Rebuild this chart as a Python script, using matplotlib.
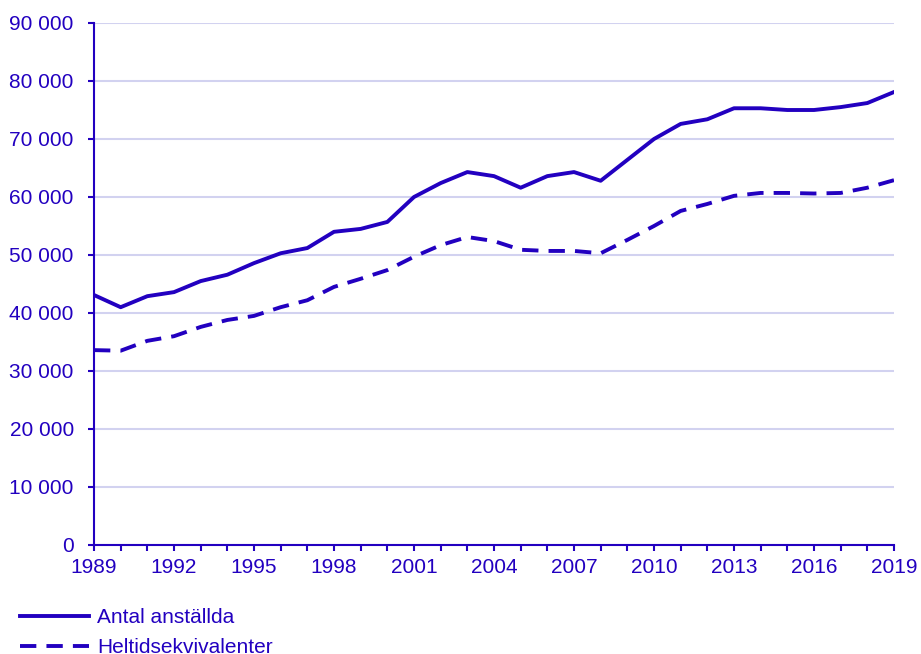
import numpy as np
import matplotlib.pyplot as plt
import matplotlib as mpl

mpl.rcParams['font.family'] = ['Liberation Sans', 'DejaVu Sans']
mpl.rcParams['font.size'] = 15

years = list(range(1989, 2020))
antal = [43.1, 41.0, 42.9, 43.6, 45.5, 46.6, 48.6, 50.3, 51.2, 54.0, 54.5,
         55.7, 60.0, 62.4, 64.3, 63.6, 61.6, 63.6, 64.3, 62.8, 66.4, 70.0,
         72.6, 73.4, 75.3, 75.3, 75.0, 75.0, 75.5, 76.2, 78.1]
heltid = [33.6, 33.5, 35.2, 36.0, 37.6, 38.8, 39.5, 41.0, 42.2, 44.5, 45.9,
          47.4, 49.7, 51.7, 53.1, 52.4, 50.9, 50.7, 50.7, 50.3, 52.6, 55.0,
          57.6, 58.8, 60.2, 60.7, 60.7, 60.6, 60.7, 61.6, 62.9]
labels = ['Antal anställda', 'Heltidsekvivalenter']

blue = '#2200c0'
grid = '#d2d2f0'

antal = np.array(antal) * 1000
heltid = np.array(heltid) * 1000

fig = plt.figure(figsize=(9.21, 6.54), dpi=100)
ax = fig.add_axes([94/921, 1-545/654, 800/921, 522/654])

ax.plot(years, antal, color=blue, lw=2.8, label=labels[0])
ax.plot(years, heltid, color=blue, lw=2.8, label=labels[1], dashes=(4.2, 2.6))

ax.set_xlim(1989, 2019)
ax.set_ylim(0, 90000)
ax.set_yticks(np.arange(0, 90001, 10000))
ax.set_yticklabels([f'{v:,}'.replace(',', ' ') for v in range(0, 90001, 10000)])
ax.set_xticks(years, minor=True)
ax.set_xticks(years[::3])
ax.yaxis.grid(True, color=grid, lw=1.5)
ax.set_axisbelow(True)

for s in ['top', 'right']:
    ax.spines[s].set_visible(False)
for s in ['left', 'bottom']:
    ax.spines[s].set_color(blue)
    ax.spines[s].set_linewidth(1.5)

ax.tick_params(axis='both', colors=blue, labelcolor=blue, width=1.5, length=4.5, labelsize=15)
ax.tick_params(axis='y', pad=10)
ax.tick_params(axis='x', which='minor', colors=blue, width=1.5, length=4.5)
ax.tick_params(axis='x', pad=5)

fig.legend(loc='upper left', bbox_to_anchor=(20/921, 1-608/654), frameon=False,
           handlelength=3.3, handletextpad=0.4, labelspacing=0.55, borderpad=0,
           labelcolor=blue, fontsize=15, borderaxespad=0)

fig.savefig('out.png', dpi=100)
